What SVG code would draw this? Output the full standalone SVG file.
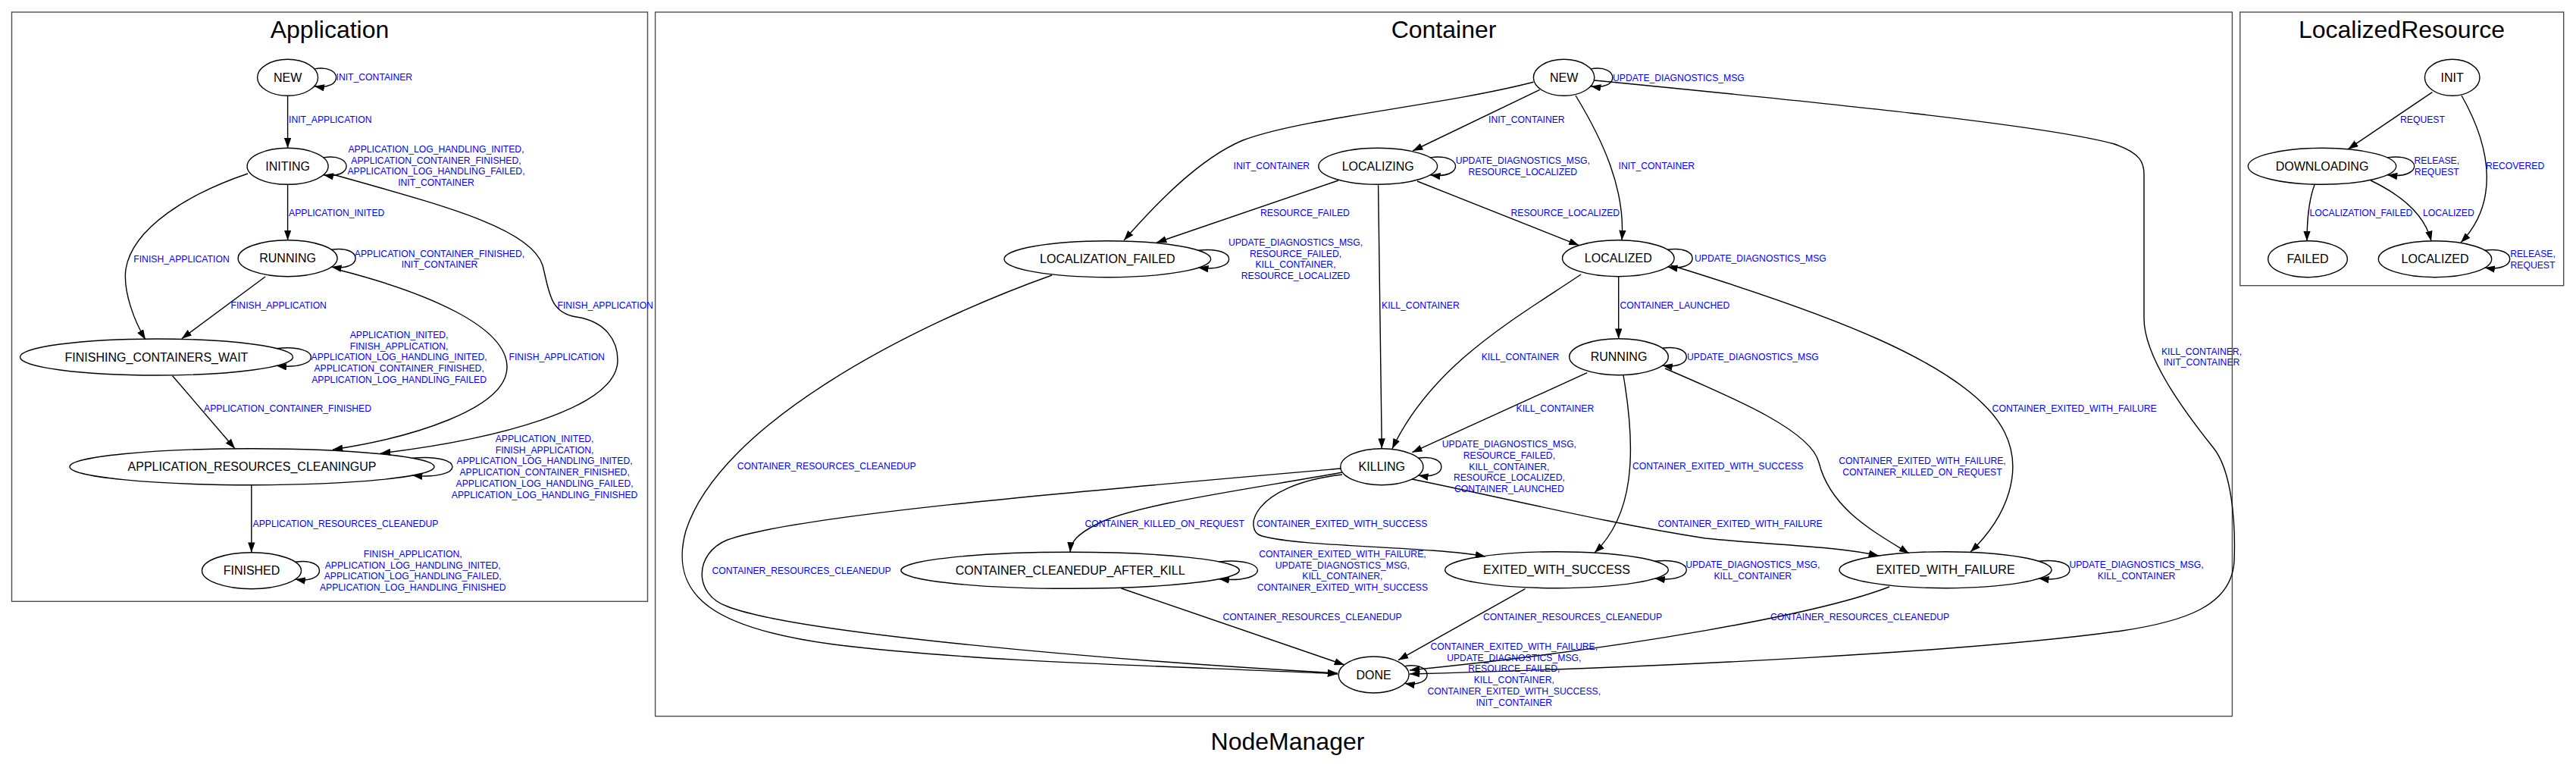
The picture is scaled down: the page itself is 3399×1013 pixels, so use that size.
<svg xmlns="http://www.w3.org/2000/svg" width="3399" height="1013" viewBox="0 0 3399 1013">
<defs>
<marker id="arr" viewBox="0 0 13.3 9.4" refX="13.3" refY="4.7" markerWidth="13.3" markerHeight="9.4" markerUnits="userSpaceOnUse" orient="auto">
<path d="M0,0 L13.3,4.7 L0,9.4 z" fill="#000"/>
</marker>
<style>
text{font-family:"Liberation Sans",Arial,Helvetica,sans-serif}
.cl{fill:none;stroke:#4d4d4d;stroke-width:1.4}
.ttl{font-size:32px;text-anchor:middle;fill:#000}
.node ellipse{fill:none;stroke:#000;stroke-width:1.4}
.node text{font-size:16px;text-anchor:middle;fill:#000}
#connectors path{fill:none;stroke:#000;stroke-width:1.4;marker-end:url(#arr)}
.lb{font-size:12.2px;fill:#0000ff}
.m{text-anchor:middle}
</style>
</defs>
<rect x="0" y="0" width="3399" height="1013" fill="#fff"/>

<g id="clusters">
<rect class="cl" x="15.5" y="16" width="839" height="777.3"/>
<text class="ttl" x="435" y="50">Application</text>
<rect class="cl" x="864.6" y="16" width="2080.8" height="928.7"/>
<text class="ttl" x="1905" y="50">Container</text>
<rect class="cl" x="2955.7" y="16" width="427" height="360.7"/>
<text class="ttl" x="3169" y="50">LocalizedResource</text>
<text class="ttl" x="1699" y="989">NodeManager</text>
</g>

<g id="connectors">
<!-- Application -->
<path d="M414.8,90.9 C453.2,84.3 453.2,120.3 414.8,113.7"/>
<path d="M379.6,126 L379.6,195.3"/>
<path d="M426.7,207.9 C467.2,201.3 467.2,237.3 426.7,230.7"/>
<path d="M379.6,243.3 L379.6,316.9"/>
<path d="M327,229 C250,255 175,300 166,355 C162,385 178,425 192,448"/>
<path d="M439,230 C580,270 700,300 716,350 C725,385 725,412 760,418 C800,424 815,450 815,475 C815,540 650,580 502,598"/>
<path d="M437.2,329.3 C479.7,322.7 479.7,358.7 437.2,352.1"/>
<path d="M350,365 L239.7,446.7"/>
<path d="M447,356 C560,385 670,430 669,485 C668,540 540,578 439,593"/>
<path d="M364.9,459.6 C425.7,453 425.7,489 364.9,482.4"/>
<path d="M227.6,495.7 L310,591.7"/>
<path d="M544.1,604.3 C614.6,597.7 614.6,633.7 544.1,627.1"/>
<path d="M331.8,640 L331.8,728.7"/>
<path d="M389.6,741.3 C432.1,734.7 432.1,770.7 389.6,764.1"/>
<!-- Container -->
<path d="M2099,90.9 C2137.4,84.3 2137.4,120.3 2099,113.7"/>
<path d="M2031.7,118.3 L1864,199"/>
<path d="M2023.4,108.3 C1900,140 1720,155 1640,185 C1580,210 1520,275 1483,317"/>
<path d="M2079,126 C2115,185 2145,250 2140,317"/>
<path d="M2104,106 C2400,135 2700,165 2790,190 C2825,202 2829,215 2829,230 L2829,420 C2829,470 2880,540 2920,590 C2945,620 2950,690 2948,740 C2945,800 2880,820 2800,832 C2600,860 2200,880 1860,889"/>
<path d="M1887.2,207.9 C1931.7,201.3 1931.7,237.3 1887.2,230.7"/>
<path d="M1766,238 L1526,320"/>
<path d="M1870,239 L2083.4,323.6"/>
<path d="M1818.6,244.3 L1823.3,591.7"/>
<path d="M1581.2,330.3 C1635.1,323.7 1635.1,359.7 1581.2,353.1"/>
<path d="M1388,363 C1200,430 950,560 905,700 C880,790 950,830 1100,850 C1300,875 1600,880 1765,889"/>
<path d="M2200.2,329.3 C2244.1,322.7 2244.1,358.7 2200.2,352.1"/>
<path d="M2135.7,364.7 L2135.7,446.7"/>
<path d="M2086,362 C2000,420 1890,480 1837,592"/>
<path d="M2205,350 C2400,410 2600,480 2645,570 C2670,620 2650,680 2600,728"/>
<path d="M2193.5,459.3 C2235.9,452.7 2235.9,488.7 2193.5,482.1"/>
<path d="M2094.2,491.7 L1863.3,596.7"/>
<path d="M2142,495 C2160,600 2155,680 2104,729"/>
<path d="M2197,486 C2300,530 2390,570 2400,610 C2415,670 2470,700 2519,730"/>
<path d="M1871.3,604.3 C1912.1,597.7 1912.1,633.7 1871.3,627.1"/>
<path d="M1769,618 C1400,650 1050,680 960,712 C915,730 915,785 960,800 C1050,835 1450,870 1765,888"/>
<path d="M1771,623 C1650,645 1500,665 1450,690 C1420,705 1413,715 1412,728.5"/>
<path d="M1771,626 C1650,640 1640,700 1665,707 C1720,722 1880,720 1960,734"/>
<path d="M1863,632 C2000,660 2120,690 2250,710 C2350,720 2420,720 2479,733"/>
<path d="M1608.6,740.9 C1676.3,734.3 1676.3,770.3 1608.6,763.7"/>
<path d="M1479.4,776 L1774,877"/>
<path d="M2183.6,740.3 C2239.2,733.7 2239.2,769.7 2183.6,763.1"/>
<path d="M2012.5,776.7 L1845,870.7"/>
<path d="M2690.2,740.3 C2744.6,733.7 2744.6,769.7 2690.2,763.1"/>
<path d="M2493,774 C2400,810 2150,855 1860,884"/>
<path d="M1853.5,878.6 C1893,872 1893,908 1853.5,901.4"/>
<!-- LocalizedResource -->
<path d="M3209.3,121.7 L3098.3,196.7"/>
<path d="M3248,126 C3290,200 3295,270 3247,320"/>
<path d="M3150,207.9 C3197.6,201.3 3197.6,237.3 3150,230.7"/>
<path d="M3054,244 C3046,265 3044,290 3044,318"/>
<path d="M3128,238 C3170,258 3200,285 3208,318"/>
<path d="M3278.7,330.3 C3322.7,323.7 3322.7,359.7 3278.7,353.1"/>
</g>

<g id="edge-labels" class="lb">
<!-- Application -->
<text x="443.5" y="106">INIT_CONTAINER</text>
<text x="381" y="162.3">INIT_APPLICATION</text>
<text class="m"><tspan x="575.5" y="201">APPLICATION_LOG_HANDLING_INITED,</tspan><tspan x="575.5" y="215.7">APPLICATION_CONTAINER_FINISHED,</tspan><tspan x="575.5" y="230.4">APPLICATION_LOG_HANDLING_FAILED,</tspan><tspan x="575.5" y="245.1">INIT_CONTAINER</tspan></text>
<text x="381" y="285.3">APPLICATION_INITED</text>
<text class="m" x="239.5" y="346">FINISH_APPLICATION</text>
<text class="m"><tspan x="580" y="338.6">APPLICATION_CONTAINER_FINISHED,</tspan><tspan x="580" y="353.3">INIT_CONTAINER</tspan></text>
<text x="304.5" y="407">FINISH_APPLICATION</text>
<text x="735.5" y="407">FINISH_APPLICATION</text>
<text class="m"><tspan x="526.6" y="446">APPLICATION_INITED,</tspan><tspan x="526.6" y="460.7">FINISH_APPLICATION,</tspan><tspan x="526.6" y="475.4">APPLICATION_LOG_HANDLING_INITED,</tspan><tspan x="526.6" y="490.1">APPLICATION_CONTAINER_FINISHED,</tspan><tspan x="526.6" y="504.8">APPLICATION_LOG_HANDLING_FAILED</tspan></text>
<text x="671.5" y="475">FINISH_APPLICATION</text>
<text x="269" y="542.6">APPLICATION_CONTAINER_FINISHED</text>
<text class="m"><tspan x="718.6" y="583">APPLICATION_INITED,</tspan><tspan x="718.6" y="597.7">FINISH_APPLICATION,</tspan><tspan x="718.6" y="612.4">APPLICATION_LOG_HANDLING_INITED,</tspan><tspan x="718.6" y="627.1">APPLICATION_CONTAINER_FINISHED,</tspan><tspan x="718.6" y="641.8">APPLICATION_LOG_HANDLING_FAILED,</tspan><tspan x="718.6" y="656.5">APPLICATION_LOG_HANDLING_FINISHED</tspan></text>
<text x="333.5" y="695">APPLICATION_RESOURCES_CLEANEDUP</text>
<text class="m"><tspan x="544.7" y="735">FINISH_APPLICATION,</tspan><tspan x="544.7" y="749.7">APPLICATION_LOG_HANDLING_INITED,</tspan><tspan x="544.7" y="764.4">APPLICATION_LOG_HANDLING_FAILED,</tspan><tspan x="544.7" y="779.1">APPLICATION_LOG_HANDLING_FINISHED</tspan></text>
<!-- Container -->
<text x="2128" y="106.5">UPDATE_DIAGNOSTICS_MSG</text>
<text x="1964" y="162">INIT_CONTAINER</text>
<text x="1627.5" y="223.3">INIT_CONTAINER</text>
<text class="m"><tspan x="2009.3" y="216">UPDATE_DIAGNOSTICS_MSG,</tspan><tspan x="2009.3" y="230.7">RESOURCE_LOCALIZED</tspan></text>
<text x="2135.5" y="223.3">INIT_CONTAINER</text>
<text x="1663" y="285.3">RESOURCE_FAILED</text>
<text x="1993.5" y="285.3">RESOURCE_LOCALIZED</text>
<text class="m"><tspan x="1709.5" y="324">UPDATE_DIAGNOSTICS_MSG,</tspan><tspan x="1709.5" y="338.7">RESOURCE_FAILED,</tspan><tspan x="1709.5" y="353.4">KILL_CONTAINER,</tspan><tspan x="1709.5" y="368.1">RESOURCE_LOCALIZED</tspan></text>
<text x="2236" y="345">UPDATE_DIAGNOSTICS_MSG</text>
<text x="1823" y="407">KILL_CONTAINER</text>
<text x="2137.5" y="407">CONTAINER_LAUNCHED</text>
<text class="m"><tspan x="2905" y="467.7">KILL_CONTAINER,</tspan><tspan x="2905" y="482.4">INIT_CONTAINER</tspan></text>
<text class="m" x="2006" y="475">KILL_CONTAINER</text>
<text x="2226" y="475">UPDATE_DIAGNOSTICS_MSG</text>
<text x="2000.5" y="543">KILL_CONTAINER</text>
<text x="2628.6" y="543">CONTAINER_EXITED_WITH_FAILURE</text>
<text class="m"><tspan x="1991.4" y="590.3">UPDATE_DIAGNOSTICS_MSG,</tspan><tspan x="1991.4" y="605">RESOURCE_FAILED,</tspan><tspan x="1991.4" y="619.7">KILL_CONTAINER,</tspan><tspan x="1991.4" y="634.4">RESOURCE_LOCALIZED,</tspan><tspan x="1991.4" y="649.1">CONTAINER_LAUNCHED</tspan></text>
<text class="m" x="1090.7" y="619">CONTAINER_RESOURCES_CLEANEDUP</text>
<text x="2154" y="619">CONTAINER_EXITED_WITH_SUCCESS</text>
<text class="m"><tspan x="2536.5" y="612.3">CONTAINER_EXITED_WITH_FAILURE,</tspan><tspan x="2536.5" y="627">CONTAINER_KILLED_ON_REQUEST</tspan></text>
<text x="1431.5" y="695.3">CONTAINER_KILLED_ON_REQUEST</text>
<text x="1658" y="695.3">CONTAINER_EXITED_WITH_SUCCESS</text>
<text x="2187.5" y="695.3">CONTAINER_EXITED_WITH_FAILURE</text>
<text class="m"><tspan x="1771.4" y="735">CONTAINER_EXITED_WITH_FAILURE,</tspan><tspan x="1771.4" y="749.7">UPDATE_DIAGNOSTICS_MSG,</tspan><tspan x="1771.4" y="764.4">KILL_CONTAINER,</tspan><tspan x="1771.4" y="779.1">CONTAINER_EXITED_WITH_SUCCESS</tspan></text>
<text class="m" x="1057.6" y="756.6">CONTAINER_RESOURCES_CLEANEDUP</text>
<text class="m"><tspan x="2312.8" y="749">UPDATE_DIAGNOSTICS_MSG,</tspan><tspan x="2312.8" y="763.7">KILL_CONTAINER</tspan></text>
<text class="m"><tspan x="2819" y="749">UPDATE_DIAGNOSTICS_MSG,</tspan><tspan x="2819" y="763.7">KILL_CONTAINER</tspan></text>
<text x="1613.5" y="817.6">CONTAINER_RESOURCES_CLEANEDUP</text>
<text x="1957" y="817.6">CONTAINER_RESOURCES_CLEANEDUP</text>
<text x="2336" y="817.6">CONTAINER_RESOURCES_CLEANEDUP</text>
<text class="m"><tspan x="1997.8" y="857">CONTAINER_EXITED_WITH_FAILURE,</tspan><tspan x="1997.8" y="871.7">UPDATE_DIAGNOSTICS_MSG,</tspan><tspan x="1997.8" y="886.4">RESOURCE_FAILED,</tspan><tspan x="1997.8" y="901.1">KILL_CONTAINER,</tspan><tspan x="1997.8" y="915.8">CONTAINER_EXITED_WITH_SUCCESS,</tspan><tspan x="1997.8" y="930.5">INIT_CONTAINER</tspan></text>
<!-- LocalizedResource -->
<text x="3167" y="162">REQUEST</text>
<text class="m"><tspan x="3215.3" y="216">RELEASE,</tspan><tspan x="3215.3" y="230.7">REQUEST</tspan></text>
<text x="3280" y="222.6">RECOVERED</text>
<text x="3047.5" y="285.3">LOCALIZATION_FAILED</text>
<text x="3197" y="285.3">LOCALIZED</text>
<text class="m"><tspan x="3342" y="339">RELEASE,</tspan><tspan x="3342" y="353.7">REQUEST</tspan></text>
</g>

<g id="app-NEW" class="node"><ellipse cx="379.6" cy="102.3" rx="40" ry="24"/><text x="379.6" y="108">NEW</text></g>
<g id="app-INITING" class="node"><ellipse cx="379.6" cy="219.3" rx="53.5" ry="24"/><text x="379.6" y="225">INITING</text></g>
<g id="app-RUNNING" class="node"><ellipse cx="379.6" cy="340.7" rx="65.5" ry="24"/><text x="379.6" y="346.4">RUNNING</text></g>
<g id="app-FINISHING_CONTAINERS_WAIT" class="node"><ellipse cx="206.5" cy="471" rx="180" ry="24"/><text x="206.5" y="476.7">FINISHING_CONTAINERS_WAIT</text></g>
<g id="app-APPLICATION_RESOURCES_CLEANINGUP" class="node"><ellipse cx="332.5" cy="615.7" rx="240.5" ry="24"/><text x="332.5" y="621.4">APPLICATION_RESOURCES_CLEANINGUP</text></g>
<g id="app-FINISHED" class="node"><ellipse cx="332" cy="752.7" rx="65.5" ry="24"/><text x="332" y="758.4">FINISHED</text></g>

<g id="c-NEW" class="node"><ellipse cx="2063.6" cy="102.3" rx="40.2" ry="24"/><text x="2063.6" y="108">NEW</text></g>
<g id="c-LOCALIZING" class="node"><ellipse cx="1818.2" cy="219.3" rx="78.4" ry="24"/><text x="1818.2" y="225">LOCALIZING</text></g>
<g id="c-LOCALIZATION_FAILED" class="node"><ellipse cx="1461.3" cy="341.7" rx="136.3" ry="24"/><text x="1461.3" y="347.4">LOCALIZATION_FAILED</text></g>
<g id="c-LOCALIZED" class="node"><ellipse cx="2135.3" cy="340.7" rx="73.8" ry="24"/><text x="2135.3" y="346.4">LOCALIZED</text></g>
<g id="c-RUNNING" class="node"><ellipse cx="2136" cy="470.7" rx="65.3" ry="24"/><text x="2136" y="476.4">RUNNING</text></g>
<g id="c-KILLING" class="node"><ellipse cx="1823.3" cy="615.7" rx="54.6" ry="24"/><text x="1823.3" y="621.4">KILLING</text></g>
<g id="c-CONTAINER_CLEANEDUP_AFTER_KILL" class="node"><ellipse cx="1412.1" cy="752.3" rx="223.3" ry="24"/><text x="1412.1" y="758">CONTAINER_CLEANEDUP_AFTER_KILL</text></g>
<g id="c-EXITED_WITH_SUCCESS" class="node"><ellipse cx="2054" cy="751.7" rx="147.3" ry="24"/><text x="2054" y="757.4">EXITED_WITH_SUCCESS</text></g>
<g id="c-EXITED_WITH_FAILURE" class="node"><ellipse cx="2567" cy="751.7" rx="140" ry="24"/><text x="2567" y="757.4">EXITED_WITH_FAILURE</text></g>
<g id="c-DONE" class="node"><ellipse cx="1812.6" cy="890" rx="46.5" ry="24"/><text x="1812.6" y="895.7">DONE</text></g>

<g id="lr-INIT" class="node"><ellipse cx="3235.7" cy="102.3" rx="36.3" ry="24"/><text x="3235.7" y="108">INIT</text></g>
<g id="lr-DOWNLOADING" class="node"><ellipse cx="3064" cy="219.3" rx="97.7" ry="24"/><text x="3064" y="225">DOWNLOADING</text></g>
<g id="lr-FAILED" class="node"><ellipse cx="3045" cy="341.7" rx="52.3" ry="24"/><text x="3045" y="347.4">FAILED</text></g>
<g id="lr-LOCALIZED" class="node"><ellipse cx="3213" cy="341.7" rx="74.7" ry="24"/><text x="3213" y="347.4">LOCALIZED</text></g>
</svg>
